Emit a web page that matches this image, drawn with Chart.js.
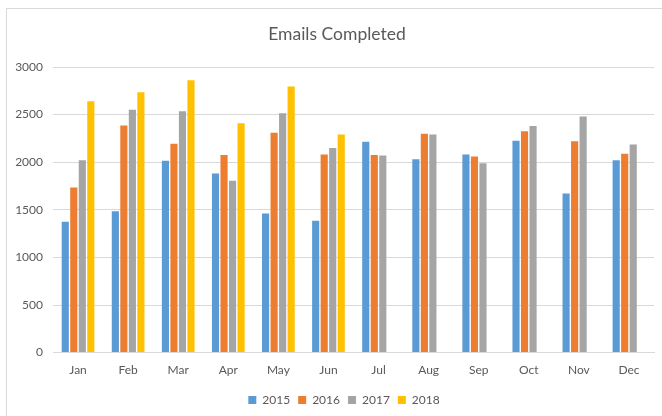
<!DOCTYPE html>
<html>
<head>
<meta charset="utf-8">
<script src="https://cdn.jsdelivr.net/npm/chart.js@4"></script>
<style>
    body { margin: 0; background: #fff; }
    #frame { position: absolute; left: 6px; top: 8px; width: 700px; height: 450px; border: 1px solid #d9d9d9; }
    #wrap { position: absolute; left: 0; top: 0; width: 662px; height: 416px; }
</style>
</head>
<body>
<div id="frame"></div>
<div id="wrap"><canvas id="emailChart" width="662" height="416"></canvas></div>
<script>
// --- Data ---
const months = ['Jan', 'Feb', 'Mar', 'Apr', 'May', 'Jun', 'Jul', 'Aug', 'Sep', 'Oct', 'Nov', 'Dec'];
const years = ['2015', '2016', '2017', '2018'];
const data2015 = [1375, 1485, 2015, 1880, 1460, 1385, 2215, 2030, 2080, 2225, 1670, 2020];
const data2016 = [1735, 2385, 2195, 2075, 2310, 2080, 2075, 2300, 2060, 2325, 2220, 2090];
const data2017 = [2020, 2550, 2535, 1805, 2515, 2150, 2070, 2290, 1990, 2380, 2480, 2185];
const data2018 = [2640, 2735, 2860, 2410, 2795, 2290, null, null, null, null, null, null];
const yTicks = [0, 500, 1000, 1500, 2000, 2500, 3000];

const colors = ['#5B9BD5', '#ED7D31', '#A5A5A5', '#FFC000'];
const textColor = '#595959';
const font = "Lato, 'Liberation Sans', sans-serif";

// title and legend sit a bit right of the canvas centre in the original
const shiftBoxes = {
    id: 'shiftBoxes',
    afterLayout(chart) {
        if (chart.titleBlock) { chart.titleBlock.left += 10; chart.titleBlock.right += 10; }
        if (chart.legend) { chart.legend.left += 17; chart.legend.right += 17; }
    }
};

const ctx = document.getElementById('emailChart').getContext('2d');

new Chart(ctx, {
    type: 'bar',
    data: {
        labels: months,
        datasets: [data2015, data2016, data2017, data2018].map((d, i) => ({
            label: years[i],
            data: d,
            backgroundColor: colors[i],
            borderWidth: 0,
            categoryPercentage: 0.68,
            barPercentage: 0.84
        }))
    },
    options: {
        responsive: false,
        animation: false,
        layout: { padding: { left: 0, right: 8, top: 0, bottom: 0 } },
        plugins: {
            title: {
                display: true,
                text: 'Emails Completed',
                color: textColor,
                font: { family: font, size: 17.5, weight: 'normal' },
                padding: { top: 24, bottom: 22 }
            },
            legend: {
                position: 'bottom',
                labels: {
                    color: textColor,
                    boxWidth: 8,
                    boxHeight: 8,
                    padding: 8,
                    font: { family: font, size: 12 }
                }
            },
            tooltip: { enabled: false }
        },
        scales: {
            y: {
                min: 0,
                max: 3000,
                afterBuildTicks: (axis) => { axis.ticks = yTicks.map(v => ({ value: v })); },
                afterFit: (axis) => { axis.width = 53; },
                grid: { color: '#d9d9d9', drawTicks: false },
                border: { display: false },
                ticks: {
                    color: textColor,
                    padding: 10,
                    font: { family: font, size: 12 },
                    callback: (v) => String(v)
                }
            },
            x: {
                afterFit: (axis) => { axis.height += 7; },
                grid: { display: false },
                border: { color: '#d9d9d9' },
                ticks: { color: textColor, padding: 2, font: { family: font, size: 12 } }
            }
        }
    },
    plugins: [shiftBoxes]
});
</script>
</body>
</html>
